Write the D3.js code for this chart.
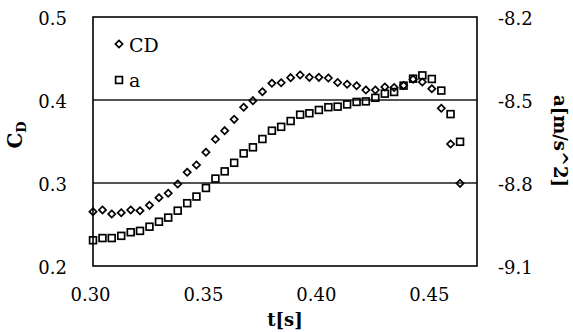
<!DOCTYPE html>
<html>
<head>
<meta charset="utf-8">
<script src="https://cdn.jsdelivr.net/npm/d3@7"></script>
<style>
  html, body { margin: 0; padding: 0; background: #fff; }
  svg { display: block; }
  text { font-family: "DejaVu Serif", "Liberation Serif", serif; fill: #000; }
</style>
</head>
<body>
<svg id="chart" width="573" height="332"></svg>
<script>
// ---- data ----
const times = [0.3000, 0.3042, 0.3083, 0.3125, 0.3167, 0.3208, 0.3250, 0.3292, 0.3333, 0.3375,
               0.3417, 0.3458, 0.3500, 0.3542, 0.3583, 0.3625, 0.3667, 0.3708, 0.3750, 0.3792,
               0.3833, 0.3875, 0.3917, 0.3958, 0.4000, 0.4042, 0.4083, 0.4125, 0.4167, 0.4208,
               0.4250, 0.4292, 0.4333, 0.4375, 0.4417, 0.4458, 0.4500, 0.4542, 0.4583, 0.4625];
const cdValues = [0.2654, 0.2675, 0.2627, 0.2642, 0.2675, 0.2666, 0.2731, 0.2823, 0.2876, 0.2988,
                  0.3129, 0.3217, 0.3370, 0.3527, 0.3631, 0.3767, 0.3912, 0.3992, 0.4100, 0.4201,
                  0.4208, 0.4269, 0.4301, 0.4273, 0.4273, 0.4265, 0.4211, 0.4190, 0.4171, 0.4120,
                  0.4120, 0.4157, 0.4151, 0.4175, 0.4251, 0.4217, 0.4135, 0.3900, 0.3470, 0.2996];
const aValues = [-9.007, -8.999, -8.999, -8.991, -8.978, -8.973, -8.958, -8.940, -8.925, -8.900,
                 -8.873, -8.849, -8.818, -8.784, -8.758, -8.727, -8.693, -8.671, -8.641, -8.611,
                 -8.597, -8.576, -8.553, -8.548, -8.536, -8.526, -8.524, -8.516, -8.507, -8.505,
                 -8.492, -8.477, -8.471, -8.448, -8.423, -8.411, -8.424, -8.466, -8.551, -8.651];
const xTicks = [0.30, 0.35, 0.40, 0.45];
const xTickLabels = ["0.30", "0.35", "0.40", "0.45"];
const yLeftTicks = [0.2, 0.3, 0.4, 0.5];
const yLeftLabels = ["0.2", "0.3", "0.4", "0.5"];
const yRightTicks = [-9.1, -8.8, -8.5, -8.2];
const yRightLabels = ["-9.1", "-8.8", "-8.5", "-8.2"];
const gridValues = [0.3, 0.4];
const seriesNames = ["CD", "a"];

// ---- layout ----
const L = 93, R = 477, T = 17, B = 266;
const svg = d3.select("#chart");

const x = d3.scaleLinear().domain([0.30, 0.47]).range([L, R]);
const yL = d3.scaleLinear().domain([0.2, 0.5]).range([B, T]);
const yR = d3.scaleLinear().domain([-9.1, -8.2]).range([B, T]);

// gridlines
svg.append("g").selectAll("line").data(gridValues).join("line")
  .attr("x1", L).attr("x2", R)
  .attr("y1", d => yL(d)).attr("y2", d => yL(d))
  .attr("stroke", "#1a1a1a").attr("stroke-width", 1.3);

// frame
svg.append("rect").attr("x", L).attr("y", T).attr("width", R - L).attr("height", B - T)
  .attr("fill", "none").attr("stroke", "#000").attr("stroke-width", 1.6);

// axes (labels only, no tick marks)
const fs = 18;
const xAxis = d3.axisBottom(x).tickValues(xTicks).tickFormat((d, i) => xTickLabels[i]).tickSize(0).tickPadding(0);
const gx = svg.append("g").attr("transform", `translate(-3,${B})`).call(xAxis);
gx.select(".domain").remove();
gx.selectAll("text").attr("font-size", fs).attr("font-family", "DejaVu Serif").attr("dy", null).attr("y", 35);

const yAxisL = d3.axisLeft(yL).tickValues(yLeftTicks).tickFormat((d, i) => yLeftLabels[i]).tickSize(0).tickPadding(26);
const gyl = svg.append("g").attr("transform", `translate(${L},0)`).call(yAxisL);
gyl.select(".domain").remove();
gyl.selectAll("text").attr("font-size", fs).attr("font-family", "DejaVu Serif").attr("dy", "0.4em");

const yAxisR = d3.axisRight(yR).tickValues(yRightTicks).tickFormat((d, i) => yRightLabels[i]).tickSize(0).tickPadding(21);
const gyr = svg.append("g").attr("transform", `translate(${R},0)`).call(yAxisR);
gyr.select(".domain").remove();
gyr.selectAll("text").attr("font-size", fs).attr("font-family", "DejaVu Serif").attr("dy", "0.4em");

// axis titles
svg.append("text").attr("x", 285).attr("y", 326).attr("text-anchor", "middle")
  .attr("font-size", 18).attr("font-weight", "bold").text("t[s]");

const cdTitle = svg.append("text")
  .attr("transform", `translate(22,135) rotate(-90)`)
  .attr("text-anchor", "middle").attr("font-size", 20).attr("font-weight", "bold");
cdTitle.append("tspan").text("C");
cdTitle.append("tspan").attr("font-size", 13).attr("dy", 4).text("D");

svg.append("text").attr("transform", `translate(554,141) rotate(90)`)
  .attr("text-anchor", "middle").attr("font-size", 18).attr("font-weight", "bold")
  .text("a[m/s^2]");

// markers
const diamondPath = "M0,-3.6L3.6,0L0,3.6L-3.6,0Z";
const sq = 6.8;

const idx = d3.range(times.length);
svg.append("g").selectAll("path").data(idx).join("path")
  .attr("d", diamondPath)
  .attr("transform", i => `translate(${x(times[i])},${yL(cdValues[i])})`)
  .attr("fill", "none").attr("stroke", "#000").attr("stroke-width", 1.7);

svg.append("g").selectAll("rect").data(idx).join("rect")
  .attr("x", i => x(times[i]) - sq / 2).attr("y", i => yR(aValues[i]) - sq / 2)
  .attr("width", sq).attr("height", sq)
  .attr("fill", "none").attr("stroke", "#000").attr("stroke-width", 1.7);

// legend
const lg = svg.append("g");
lg.append("path").attr("d", diamondPath).attr("transform", "translate(119,44)")
  .attr("fill", "none").attr("stroke", "#000").attr("stroke-width", 1.7);
lg.append("text").attr("x", 129).attr("y", 52).attr("font-size", 19).text(seriesNames[0]);
lg.append("rect").attr("x", 119 - sq / 2).attr("y", 80 - sq / 2).attr("width", sq).attr("height", sq)
  .attr("fill", "none").attr("stroke", "#000").attr("stroke-width", 1.7);
lg.append("text").attr("x", 129).attr("y", 87).attr("font-size", 19).text(seriesNames[1]);
</script>
</body>
</html>
